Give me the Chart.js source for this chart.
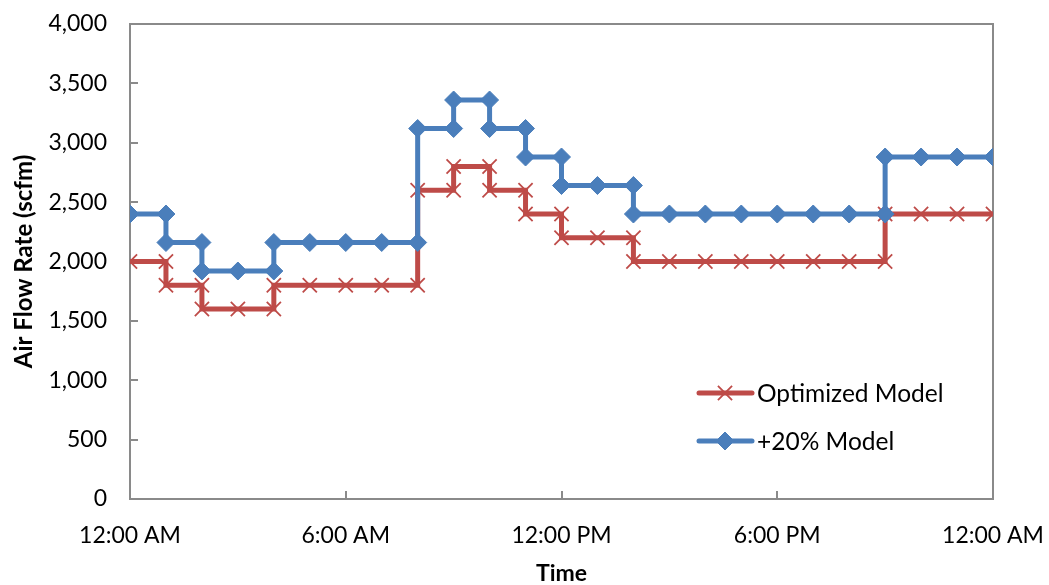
<!DOCTYPE html>
<html>
<head>
<meta charset="utf-8">
<script src="https://cdn.jsdelivr.net/npm/chart.js@4.4.1/dist/chart.umd.min.js"></script>
<style>
  html, body { margin: 0; padding: 0; background: #ffffff; }
  #wrap { width: 1049px; height: 585px; position: relative; }
</style>
</head>
<body>
<div id="wrap"><canvas id="flowChart"></canvas></div>
<script>
// Hour of day for each point; a repeated hour marks a step change.
const hours = [0, 1, 1, 2, 2, 3, 4, 4, 5, 6, 7, 8, 8, 9, 9, 10, 10, 11, 11, 12, 12, 13, 14, 14,
               15, 16, 17, 18, 19, 20, 21, 21, 22, 23, 24];

// Air flow rate (scfm)
const optimizedModel = [2000, 2000, 1800, 1800, 1600, 1600, 1600, 1800, 1800, 1800, 1800, 1800, 2600,
                        2600, 2800, 2800, 2600, 2600, 2400, 2400, 2200, 2200, 2200, 2000,
                        2000, 2000, 2000, 2000, 2000, 2000, 2000, 2400, 2400, 2400, 2400];
const plus20Model = [2400, 2400, 2160, 2160, 1920, 1920, 1920, 2160, 2160, 2160, 2160, 2160, 3120,
                     3120, 3360, 3360, 3120, 3120, 2880, 2880, 2640, 2640, 2640, 2400,
                     2400, 2400, 2400, 2400, 2400, 2400, 2400, 2880, 2880, 2880, 2880];

const seriesNames = ['Optimized Model', '+20% Model'];
const timeTickHours = [0, 6, 12, 18, 24];
const timeTickLabels = ['12:00 AM', '6:00 AM', '12:00 PM', '6:00 PM', '12:00 AM'];

const AXIS_COLOR = '#8a8a8a';
const FONT = 'Lato';
const RED = '#be4b48';
const BLUE = '#4a7ebb';

const toPoints = (vals) => hours.map((h, i) => ({ x: h, y: vals[i] }));

// Plot frame plus inward-pointing tick marks
const frameAndTicks = {
  id: 'frameAndTicks',
  beforeDatasetsDraw(chart) {
    const { ctx, chartArea: a, scales } = chart;
    ctx.save();
    ctx.strokeStyle = AXIS_COLOR;
    ctx.lineWidth = 2;
    ctx.beginPath();
    ctx.moveTo(a.left, a.top);
    ctx.lineTo(a.right, a.top);
    ctx.lineTo(a.right, a.bottom);
    ctx.stroke();
    ctx.beginPath();
    scales.y.ticks.forEach(t => {
      const py = Math.round(scales.y.getPixelForValue(t.value));
      ctx.moveTo(a.left, py);
      ctx.lineTo(a.left + 8, py);
    });
    timeTickHours.forEach(h => {
      const px = Math.round(scales.x.getPixelForValue(h));
      ctx.moveTo(px, a.bottom);
      ctx.lineTo(px, a.bottom - 8);
    });
    ctx.stroke();
    ctx.restore();
  },
  afterDatasetsDraw(chart) {
    // Legend inside the plot area: line sample with marker, then name
    const { ctx } = chart;
    const rows = [393, 441];
    ctx.save();
    chart.data.datasets.forEach((ds, i) => {
      const y = rows[i];
      ctx.strokeStyle = ds.borderColor;
      ctx.lineWidth = ds.borderWidth;
      ctx.lineCap = 'round';
      ctx.beginPath();
      ctx.moveTo(699, y);
      ctx.lineTo(752, y);
      ctx.stroke();
      ctx.lineCap = 'butt';
      ctx.fillStyle = ds.pointBackgroundColor;
      ctx.strokeStyle = ds.pointBorderColor;
      ctx.lineWidth = ds.pointBorderWidth;
      Chart.helpers.drawPoint(ctx, {
        pointStyle: ds.pointStyle, radius: ds.pointRadius,
        borderWidth: ds.pointBorderWidth, rotation: 0
      }, 725, y);
      ctx.fillStyle = '#000000';
      ctx.font = '24.5px ' + FONT;
      ctx.textBaseline = 'middle';
      ctx.textAlign = 'left';
      ctx.fillText(ds.label, 757, y + 1);
    });
    ctx.restore();
  }
};

new Chart(document.getElementById('flowChart'), {
  type: 'line',
  data: {
    datasets: [
      {
        label: seriesNames[0],
        data: toPoints(optimizedModel),
        borderColor: RED,
        borderWidth: 5,
        pointStyle: 'crossRot',
        pointRadius: 10,
        pointBorderWidth: 1.8,
        pointBackgroundColor: RED,
        pointBorderColor: RED,
        tension: 0,
        order: 2
      },
      {
        label: seriesNames[1],
        data: toPoints(plus20Model),
        borderColor: BLUE,
        borderWidth: 5,
        pointStyle: 'rectRot',
        pointRadius: 9,
        pointBorderWidth: 1,
        pointBackgroundColor: BLUE,
        pointBorderColor: BLUE,
        tension: 0,
        order: 1
      }
    ]
  },
  plugins: [frameAndTicks],
  options: {
    responsive: true,
    maintainAspectRatio: false,
    animation: false,
    locale: 'en-US',
    layout: { padding: { top: 24, right: 56, left: 0, bottom: 0 } },
    plugins: { legend: { display: false }, tooltip: { enabled: false } },
    scales: {
      x: {
        type: 'linear',
        min: 0,
        max: 24,
        afterBuildTicks(scale) {
          scale.ticks = timeTickHours.map(v => ({ value: v }));
        },
        afterFit(scale) {
          scale.height = 86;
          scale.paddingLeft = 0;
          scale.paddingRight = 0;
        },
        grid: { display: false },
        border: { display: true, color: AXIS_COLOR, width: 2 },
        ticks: {
          padding: 15,
          maxRotation: 0,
          autoSkip: false,
          color: '#000000',
          font: { family: FONT, size: 23 },
          callback: (v) => timeTickLabels[timeTickHours.indexOf(v)]
        },
        title: {
          display: true,
          text: 'Time',
          color: '#000000',
          font: { family: FONT, size: 23, weight: 'bold' },
          padding: { top: 0, bottom: -2 }
        }
      },
      y: {
        min: 0,
        max: 4000,
        afterFit(scale) {
          scale.width = 130;
          scale.paddingTop = 0;
          scale.paddingBottom = 0;
        },
        grid: { display: false },
        border: { display: true, color: AXIS_COLOR, width: 2 },
        ticks: {
          stepSize: 500,
          padding: 15,
          color: '#000000',
          font: { family: FONT, size: 23 },
          callback: (v) => v.toLocaleString('en-US')
        },
        title: {
          display: true,
          text: 'Air Flow Rate (scfm)',
          color: '#000000',
          font: { family: FONT, size: 24, weight: 'bold' },
          padding: { top: 10, bottom: 0 }
        }
      }
    }
  }
});
</script>
</body>
</html>
